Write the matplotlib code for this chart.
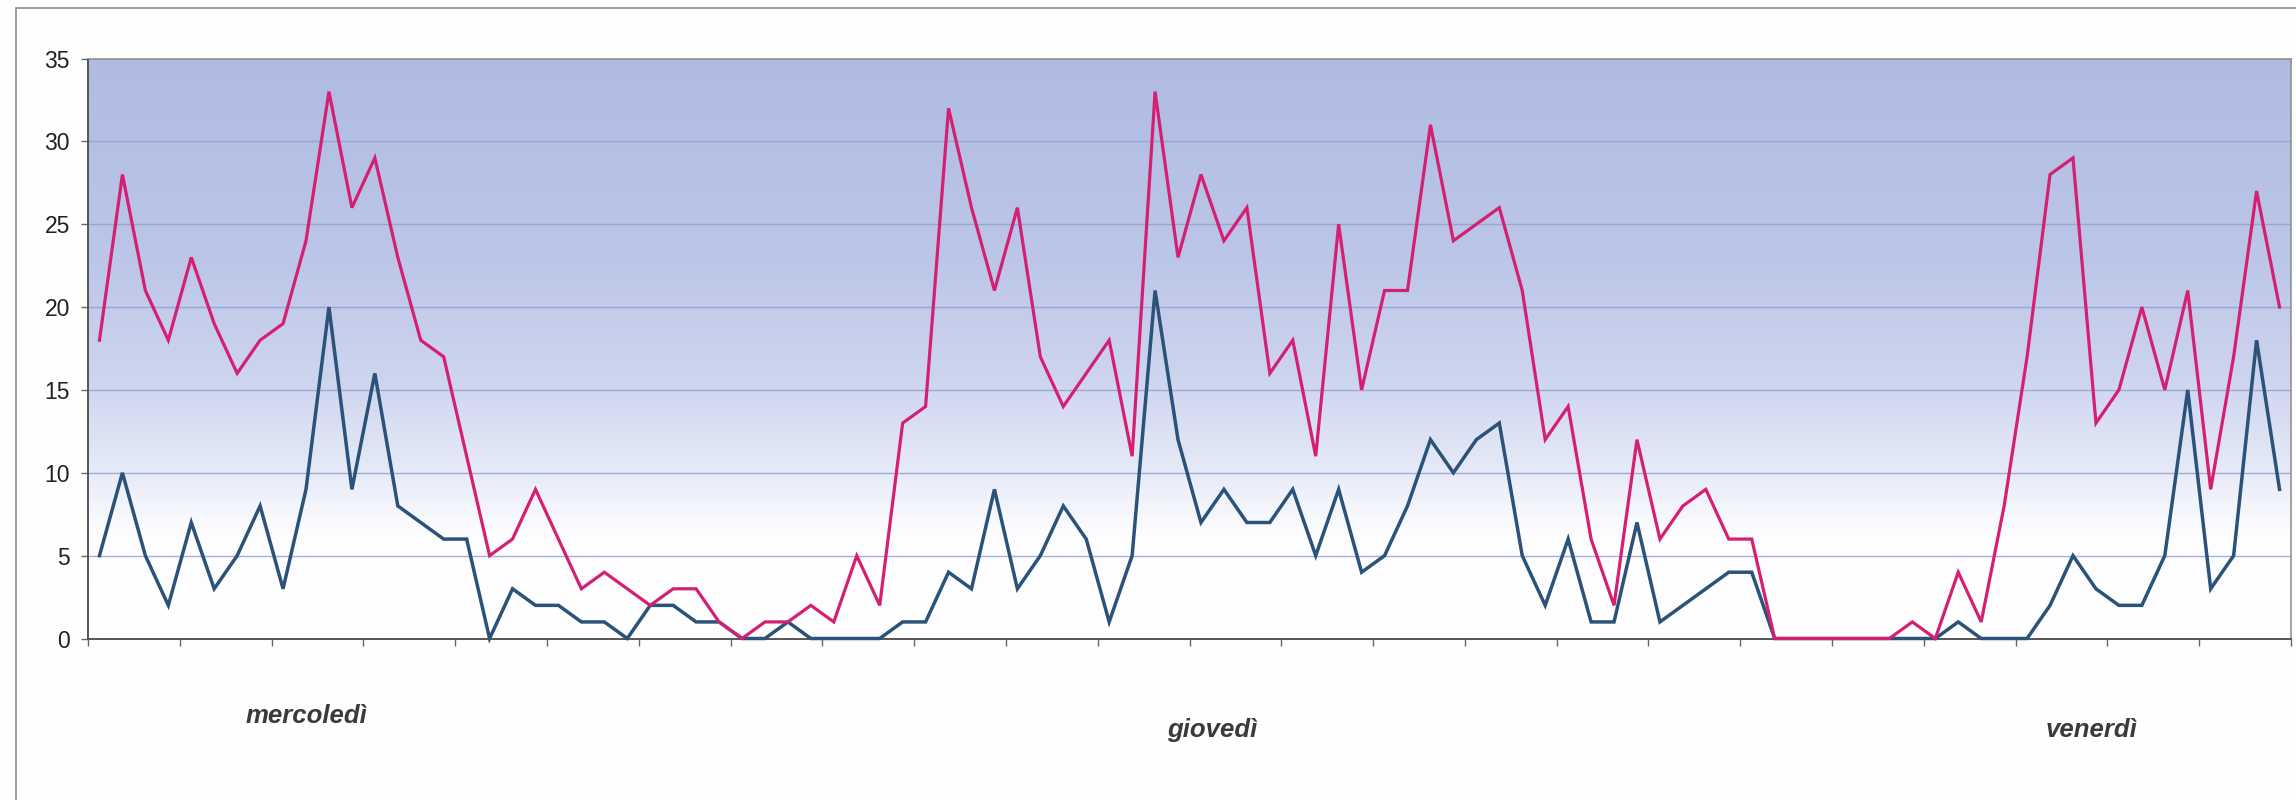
import numpy as np
import matplotlib.pyplot as plt
from matplotlib.colors import LinearSegmentedColormap
from matplotlib.patches import Rectangle

# valori orari (96 intervalli) per le due serie
totale = [18, 28, 21, 18, 23, 19, 16, 18, 19, 24,
          33, 26, 29, 23, 18, 17, 11, 5, 6, 9,
          6, 3, 4, 3, 2, 3, 3, 1, 0, 1,
          1, 2, 1, 5, 2, 13, 14, 32, 26, 21,
          26, 17, 14, 16, 18, 11, 33, 23, 28, 24,
          26, 16, 18, 11, 25, 15, 21, 21, 31, 24,
          25, 26, 21, 12, 14, 6, 2, 12, 6, 8,
          9, 6, 6, 0, 0, 0, 0, 0, 0, 1,
          0, 4, 1, 8, 17, 28, 29, 13, 15, 20,
          15, 21, 9, 17, 27, 20]
parziale = [5, 10, 5, 2, 7, 3, 5, 8, 3, 9,
            20, 9, 16, 8, 7, 6, 6, 0, 3, 2,
            2, 1, 1, 0, 2, 2, 1, 1, 0, 0,
            1, 0, 0, 0, 0, 1, 1, 4, 3, 9,
            3, 5, 8, 6, 1, 5, 21, 12, 7, 9,
            7, 7, 9, 5, 9, 4, 5, 8, 12, 10,
            12, 13, 5, 2, 6, 1, 1, 7, 1, 2,
            3, 4, 4, 0, 0, 0, 0, 0, 0, 0,
            0, 1, 0, 0, 0, 2, 5, 3, 2, 2,
            5, 15, 3, 5, 18, 9]
giorni = ['mercoledì', 'giovedì', 'venerdì']
y_ticks = [0, 5, 10, 15, 20, 25, 30, 35]

plt.rcParams['font.family'] = ['Liberation Sans', 'DejaVu Sans']

n = len(totale)
x = np.arange(n) + 0.5

fig = plt.figure(figsize=(22.96, 8), dpi=100, facecolor='#fefefc')
ax = fig.add_axes([88 / 2296, 1 - 638.5 / 800, 2203 / 2296, 580 / 800])

# cornice esterna del grafico
fig.patches.append(Rectangle((16 / 2296, -0.1), 1.2, 1.1 - 8 / 800,
                             transform=fig.transFigure, fill=False,
                             edgecolor='#8a8a8a', lw=1.2))

# sfondo sfumato dell'area del tracciato
sfondo = LinearSegmentedColormap.from_list('sfondo', [
    (0.0, '#ffffff'), (0.18, '#fdfdff'), (0.30, '#e4e8f6'),
    (0.45, '#cdd4ee'), (0.65, '#bcc6e8'), (1.0, '#afbbe2')])
grad = np.linspace(0, 1, 256).reshape(-1, 1)
ax.imshow(grad, cmap=sfondo, origin='lower', aspect='auto',
          extent=[0, n, 0, 35], zorder=0, interpolation='bilinear')

for v in y_ticks[1:-1]:
    ax.axhline(v, color='#8f9dd0', lw=1.0, alpha=0.8, zorder=1)

ax.plot(x, parziale, color='#2b5279', lw=2.5, zorder=3, clip_on=False,
        solid_joinstyle='miter')
ax.plot(x, totale, color='#d41f72', lw=2.3, zorder=4, clip_on=False,
        solid_joinstyle='miter')

ax.set_xlim(0, n)
ax.set_ylim(0, 35)
ax.set_yticks(y_ticks)
ax.set_xticks(np.arange(0, n + 1, 4))
ax.set_xticklabels([])
ax.tick_params(axis='y', length=5, width=1, color='#666666', pad=8,
               labelsize=16.5, labelcolor='#222222')
ax.tick_params(axis='x', length=5, width=1, color='#666666')

for lato in ['left', 'bottom']:
    ax.spines[lato].set_color('#555555')
    ax.spines[lato].set_linewidth(1.4)
for lato in ['top', 'right']:
    ax.spines[lato].set_color('#8a8a8a')
    ax.spines[lato].set_linewidth(1.1)

# nomi dei giorni sotto l'asse
for giorno, gx, gy in zip(giorni, [9.5, 49.0, 87.3], [716, 730, 730]):
    fig.text(ax.transData.transform((gx, 0))[0] / fig.bbox.width,
             1 - gy / 800, giorno, ha='center', va='center',
             fontsize=18.5, fontweight='bold', fontstyle='italic',
             color='#3a3a3a')

fig.savefig('out.png', dpi=100, facecolor=fig.get_facecolor())
